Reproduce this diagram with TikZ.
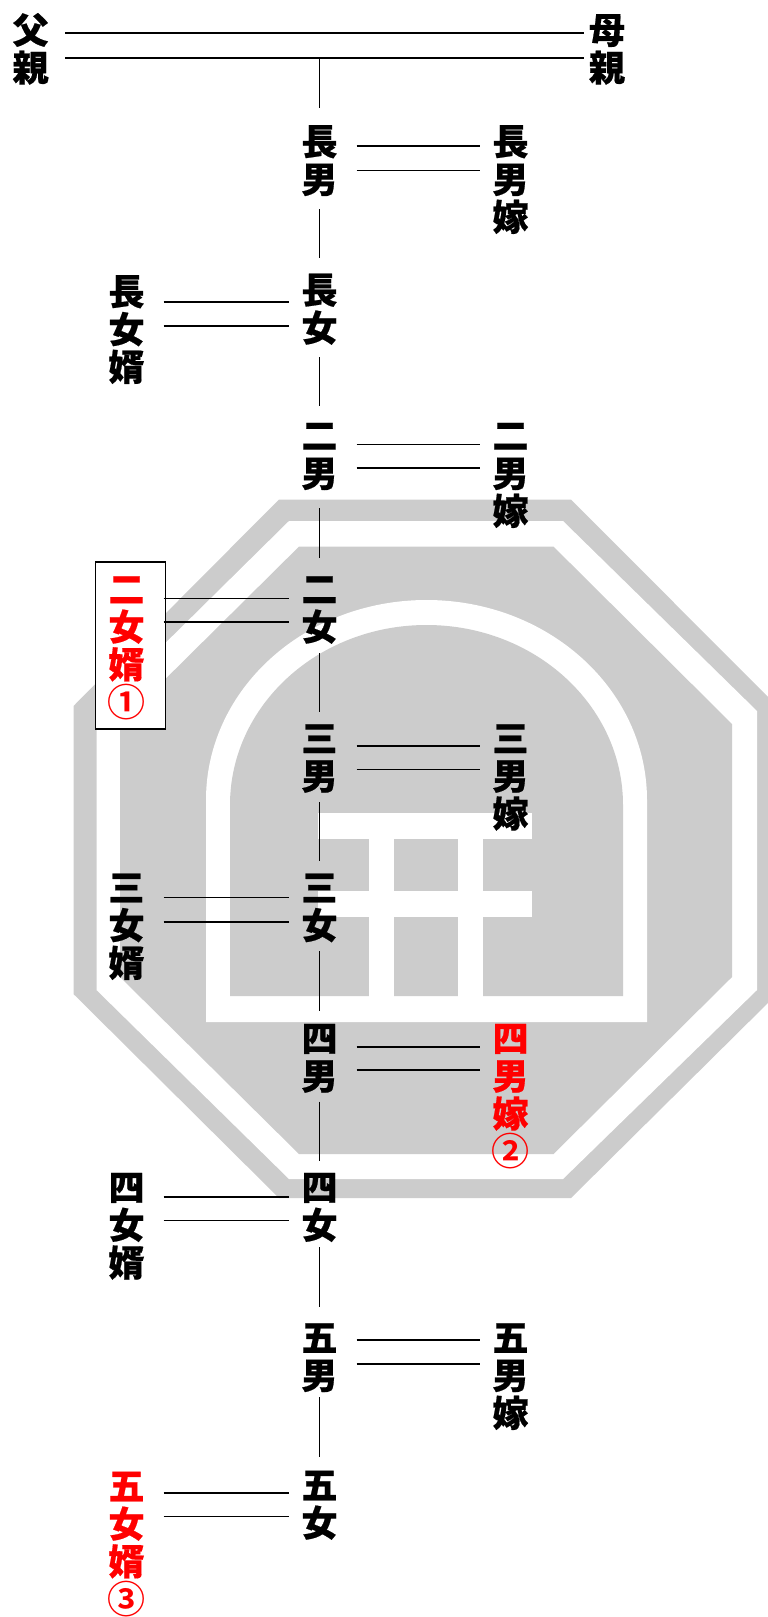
\documentclass[tikz,border=0pt]{standalone}
\usepackage{fontspec}
\newfontfamily\jpheavy[FakeBold=0.5]{Noto Sans CJK JP Black}
\newfontfamily\jpcirc{Noto Sans CJK JP Bold}
\definecolor{wm}{HTML}{CCCCCC}
\definecolor{hl}{HTML}{FF0000}
\newcommand{\gl}{\rule[-4.3pt]{0pt}{36pt}}
\newcommand{\circled}[1]{\raisebox{-0.6pt}{\jpcirc\fontsize{38}{37.8}\selectfont #1}}
% horizontal line of a pair: left node, right node, y
\newcommand{\hbond}[3]{\draw[link] ([xshift=7pt]#1.east |- 0,#3) -- (#2.west |- 0,#3);}
% vertical link: upper node, lower node, y start, y end
\newcommand{\vbond}[4]{\draw[link] (#1 |- 0,#3) -- (#2 |- 0,#4);}
\tikzset{
  person/.style={anchor=north,inner sep=0pt,minimum width=60pt,align=center,
    font=\jpheavy\fontsize{36}{37.8}\selectfont},
  redp/.style={person,text=hl},
  link/.style={line width=1.4pt,draw=black},
  wmfill/.style={fill=wm,draw=none},
  gapfill/.style={fill=white,draw=none}
}
\begin{document}
\begin{tikzpicture}[x=1pt,y=-1pt]
\useasboundingbox (0,0) rectangle (768,1617);
\fill[white] (0,0) rectangle (768,1617);
\begin{scope}
\clip (0,0) rectangle (768,1617);
\fill[wmfill] (279,499.5) -- (571,499.5) -- (777,706) -- (777,994) -- (571,1198) -- (279,1198) -- (73.5,994) -- (73.5,706) -- cycle;
\fill[gapfill] (289,521) -- (563,521) -- (757,711) -- (757,990) -- (563,1179) -- (289,1179) -- (96.5,990) -- (96.5,711) -- cycle;
\fill[wmfill] (299,546.6) -- (553.5,546.6) -- (732,724) -- (732,977) -- (553.5,1154) -- (299,1154) -- (120,977) -- (120,724) -- cycle;
\fill[gapfill] (206,1022) -- (206,800) .. controls (206,689.5) and (304.7,600) .. (426.5,600) .. controls (548.3,600) and (647,689.5) .. (647,800) -- (647,1022) -- cycle;
\fill[wmfill] (230,996) -- (230,805) .. controls (230,705.6) and (318,625) .. (426.5,625) .. controls (535,625) and (623,705.6) .. (623,805) -- (623,996) -- cycle;
\fill[gapfill] (318,813) rectangle (532,838.5);
\fill[gapfill] (318,891) rectangle (532,917);
\fill[gapfill] (368.5,813) rectangle (393.5,1000);
\fill[gapfill] (458,813) rectangle (482.5,1000);
\end{scope}

\node[draw=black,line width=1.3pt,fill=white,inner sep=0pt,minimum width=70.4pt,minimum height=167pt] (box) at (130.5,645.5) {};

\node[person] (father) at (30.6,11.5) {\gl 父\\\gl 親};
\node[person] (mother) at (607,11.5) {\gl 母\\\gl 親};

\node[person] (s1) at (319.5,123) {\gl 長\\\gl 男};
\node[person] (s1w) at (510.5,123) {\gl 長\\\gl 男\\\gl 嫁};
\node[person] (d1) at (319.5,271.5) {\gl 長\\\gl 女};
\node[person] (d1h) at (126.5,273) {\gl 長\\\gl 女\\\gl 婿};
\node[person] (s2) at (319.5,417) {\gl 二\\\gl 男};
\node[person] (s2w) at (510.5,417) {\gl 二\\\gl 男\\\gl 嫁};
\node[person] (d2) at (319.5,570.5) {\gl 二\\\gl 女};
\node[redp] (d2h) at (126.5,570.5) {\gl 二\\\gl 女\\\gl 婿\\\gl \circled{①}};
\node[person] (s3) at (319.5,719.7) {\gl 三\\\gl 男};
\node[person] (s3w) at (510.5,719.7) {\gl 三\\\gl 男\\\gl 嫁};
\node[person] (d3) at (319.5,869) {\gl 三\\\gl 女};
\node[person] (d3h) at (126.5,869) {\gl 三\\\gl 女\\\gl 婿};
\node[person] (s4) at (319.5,1019.7) {\gl 四\\\gl 男};
\node[redp] (s4w) at (510.5,1019.7) {\gl 四\\\gl 男\\\gl 嫁\\\gl \circled{②}};
\node[person] (d4) at (319.5,1168.7) {\gl 四\\\gl 女};
\node[person] (d4h) at (126.5,1168.7) {\gl 四\\\gl 女\\\gl 婿};
\node[person] (s5) at (319.5,1319) {\gl 五\\\gl 男};
\node[person] (s5w) at (510.5,1319) {\gl 五\\\gl 男\\\gl 嫁};
\node[person] (d5) at (319.5,1466.5) {\gl 五\\\gl 女};
\node[redp] (d5h) at (126.5,1467.5) {\gl 五\\\gl 女\\\gl 婿\\\gl \circled{③}};

\draw[link] ([xshift=4.4pt]father.east |- 0,33) -- ([xshift=7pt]mother.west |- 0,33);
\draw[link] ([xshift=4.4pt]father.east |- 0,58) coordinate (parentsL) -- ([xshift=7pt]mother.west |- 0,58);
\draw[link] (s1 |- parentsL) -- (s1 |- 0,108);

\hbond{s1}{s1w}{146}\hbond{s1}{s1w}{170.5}
\hbond{d1h}{d1}{302}\hbond{d1h}{d1}{326}
\hbond{s2}{s2w}{444.3}\hbond{s2}{s2w}{468}
\hbond{d2h}{d2}{598.7}\hbond{d2h}{d2}{622}
\hbond{s3}{s3w}{746}\hbond{s3}{s3w}{769.6}
\hbond{d3h}{d3}{897.6}\hbond{d3h}{d3}{921.8}
\hbond{s4}{s4w}{1047}\hbond{s4}{s4w}{1070}
\hbond{d4h}{d4}{1197}\hbond{d4h}{d4}{1220.6}
\hbond{s5}{s5w}{1340}\hbond{s5}{s5w}{1364}
\hbond{d5h}{d5}{1493}\hbond{d5h}{d5}{1516.5}

\vbond{s1}{d1}{209}{258}
\vbond{d1}{s2}{357}{406}
\vbond{s2}{d2}{508}{558}
\vbond{d2}{s3}{653}{712}
\vbond{s3}{d3}{802}{861}
\vbond{d3}{s4}{951}{1010.7}
\vbond{s4}{d4}{1101.5}{1160.6}
\vbond{d4}{s5}{1247}{1307}
\vbond{s5}{d5}{1397}{1457}
\end{tikzpicture}
\end{document}
